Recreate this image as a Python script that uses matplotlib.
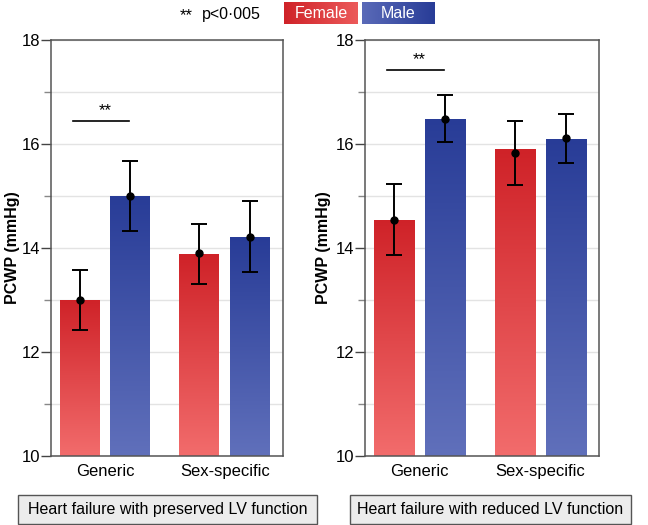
import numpy as np
import matplotlib
matplotlib.use("Agg")
import matplotlib.pyplot as plt
from matplotlib.patches import Rectangle

plt.rcParams['font.family'] = ['Liberation Sans', 'DejaVu Sans']

# data
groups = ["Generic", "Sex-specific"]
panels = ["Heart failure with preserved LV function",
          "Heart failure with reduced LV function"]

# bar heights, point estimates and CI ends per panel: [generic, sex-specific]
pres_f_bar = [13.0, 13.88]
pres_f_pt = [13.0, 13.9]
pres_f_lo = [12.42, 13.31]
pres_f_hi = [13.58, 14.47]
pres_m_bar = [15.0, 14.21]
pres_m_pt = [15.0, 14.21]
pres_m_lo = [14.32, 13.54]
pres_m_hi = [15.67, 14.9]

red_f_bar = [14.54, 15.9]
red_f_pt = [14.54, 15.83]
red_f_lo = [13.86, 15.22]
red_f_hi = [15.23, 16.44]
red_m_bar = [16.49, 16.1]
red_m_pt = [16.49, 16.11]
red_m_lo = [16.03, 15.63]
red_m_hi = [16.95, 16.57]

sig_level = [16.44, 17.42]

red_top, red_bot = "#cf2228", "#f26c6c"
blue_top, blue_bot = "#283c97", "#6070bb"


def grad_bar(ax, x, h, c_top, c_bot, w):
    bar = ax.bar(x, h, width=w, bottom=10, color=c_top, zorder=2)[0]
    cmap = matplotlib.colors.LinearSegmentedColormap.from_list("g", [c_bot, c_top])
    g = np.linspace(0, 1, 256).reshape(-1, 1)
    im = ax.imshow(g, cmap=cmap, origin="lower", aspect="auto",
                   extent=(bar.get_x(), bar.get_x() + bar.get_width(), 10, 10 + bar.get_height()),
                   zorder=2.5)
    im.set_clip_path(bar)


fig = plt.figure(figsize=(6.48, 5.25), dpi=100)
axes = [fig.add_axes([0.0787, 0.1314, 0.358, 0.7924]),
        fig.add_axes([0.5633, 0.1314, 0.361, 0.7924])]

data = [(pres_f_bar, pres_f_pt, pres_f_lo, pres_f_hi, pres_m_bar, pres_m_pt, pres_m_lo, pres_m_hi),
        (red_f_bar, red_f_pt, red_f_lo, red_f_hi, red_m_bar, red_m_pt, red_m_lo, red_m_hi)]

xpos = np.arange(len(groups))
off = 0.211
w = 0.334
label_x = [-0.135, -0.145]

for k, ax in enumerate(axes):
    fb, fp, flo, fhi, mb, mp, mlo, mhi = data[k]
    for i in range(len(groups)):
        grad_bar(ax, xpos[i] - off, fb[i] - 10, red_top, red_bot, w)
        grad_bar(ax, xpos[i] + off, mb[i] - 10, blue_top, blue_bot, w)
    for xs, pt, lo, hi in [(xpos - off, fp, flo, fhi), (xpos + off, mp, mlo, mhi)]:
        pt = np.array(pt)
        err = [pt - np.array(lo), np.array(hi) - pt]
        ax.errorbar(xs, pt, yerr=err, fmt="o", color="black", ms=5,
                    elinewidth=1.4, capsize=5.5, capthick=1.4, zorder=4)
    ax.plot([-0.27, 0.2], [sig_level[k], sig_level[k]], color="black", lw=1.2, zorder=4)
    ax.text(0.0, sig_level[k] + 0.05, "**", ha="center", va="bottom", fontsize=12)

    ax.set_xlim(-0.452, 1.487)
    ax.set_ylim(10, 18)
    ax.set_yticks([10, 12, 14, 16, 18])
    ax.set_yticks([11, 13, 15, 17], minor=True)
    ax.grid(True, which="both", axis="y", color="#e3e3e3", lw=1, zorder=0)
    ax.set_axisbelow(True)
    ax.set_xticks(xpos)
    ax.set_xticklabels(groups, fontsize=12)
    ax.tick_params(axis="x", length=0, pad=6)
    ax.tick_params(axis="y", which="major", length=7, width=1, color="#444444",
                   labelsize=12, pad=1)
    ax.tick_params(axis="y", which="minor", length=5, width=1, color="#888888")
    for s in ax.spines.values():
        s.set_color("#555555")
        s.set_linewidth(1.1)
    ax.set_ylabel("PCWP (mmHg)", fontsize=11.5, fontweight="bold")
    ax.yaxis.set_label_coords(label_x[k], 0.5)

# legend at the top
fig.text(0.277, 0.971, "**", fontsize=12, ha="left", va="center")
fig.text(0.312, 0.973, "p<0·005", fontsize=11.5, ha="left", va="center")
leg = [("Female", 284, 358, red_top, "#ec5a5a"), ("Male", 362, 435, "#5a6ab8", blue_top)]
for name, x0, x1, c0, c1 in leg:
    lax = fig.add_axes([x0 / 648, 1 - 24 / 525, (x1 - x0) / 648, 22 / 525])
    cmap = matplotlib.colors.LinearSegmentedColormap.from_list("l", [c0, c1])
    lax.imshow(np.linspace(0, 1, 256).reshape(1, -1), cmap=cmap, aspect="auto")
    lax.set_axis_off()
    lax.text(0.5, 0.5, name, color="white", fontsize=11.5, ha="center", va="center",
             transform=lax.transAxes)

# panel captions
boxes = [(18, 317), (350, 631)]
for (x0, x1), title in zip(boxes, panels):
    fig.patches.append(Rectangle((x0 / 648, 1 - 524 / 525), (x1 - x0) / 648, 29 / 525,
                                 transform=fig.transFigure, facecolor="#ececec",
                                 edgecolor="#555555", lw=1))
    fig.text((x0 + x1) / 2 / 648, 1 - 509.5 / 525, title, fontsize=11.5,
             ha="center", va="center")

fig.savefig("out.png", dpi=100)
